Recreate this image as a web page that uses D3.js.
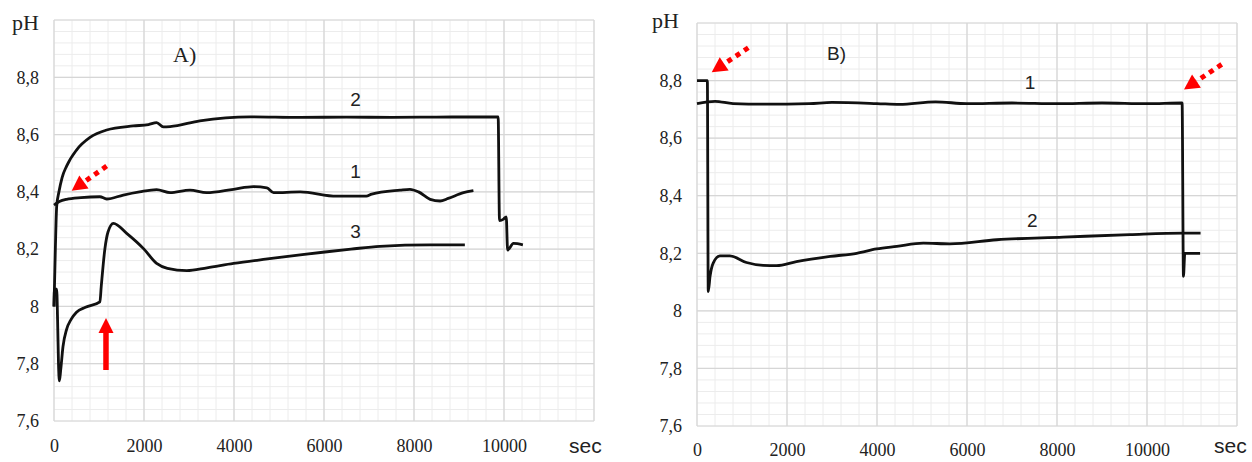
<!DOCTYPE html>
<html>
<head>
<meta charset="utf-8">
<script src="https://cdn.jsdelivr.net/npm/d3@7"></script>
<style>
  body { margin: 0; background: #fff; }
</style>
</head>
<body>
<svg id="chart" width="1252" height="462"></svg>
<script>
// axis ticks
const X_TICKS = [0, 2000, 4000, 6000, 8000, 10000];
const Y_TICKS = [7.6, 7.8, 8.0, 8.2, 8.4, 8.6, 8.8];

// panel A curves, [sec, pH]
const a1 = [[0,8.354],[120,8.366],[280,8.374],[600,8.38],[1020,8.383],[1170,8.375],[1540,8.389],[1900,8.4],
  [2280,8.408],[2580,8.397],[3020,8.406],[3390,8.397],[3990,8.409],[4430,8.418],[4730,8.414],[4880,8.397],
  [5470,8.4],[6280,8.385],[6940,8.385],[7060,8.392],[7690,8.406],[7910,8.409],[8100,8.4],[8360,8.374],
  [8580,8.368],[8760,8.377],[9100,8.397],[9320,8.404]];
const a2 = [[0,8.0],[30,8.2],[60,8.35],[110,8.4],[180,8.45],[280,8.49],[500,8.546],[800,8.59],[1170,8.616],
  [1760,8.63],[2100,8.635],[2280,8.642],[2430,8.627],[2580,8.628],[3240,8.648],[4360,8.662],[5470,8.66],
  [6500,8.661],[7500,8.66],[8500,8.661],[9870,8.662],[9900,8.3],[9990,8.305],[10050,8.313],[10080,8.197],
  [10210,8.22],[10420,8.215]];
const a3 = [[0,8.0],[10,8.06],[60,8.06],[80,7.95],[100,7.8],[120,7.74],[150,7.78],[200,7.86],[280,7.92],
  [380,7.955],[500,7.98],[700,7.997],[1020,8.016],[1050,8.07],[1130,8.2],[1200,8.26],[1320,8.29],[1615,8.255],
  [2000,8.2],[2280,8.15],[2520,8.133],[2950,8.125],[3400,8.135],[3990,8.15],[4700,8.165],[5470,8.18],
  [6020,8.19],[6600,8.2],[7240,8.21],[8360,8.215],[9130,8.215]];

// panel B curves, [sec, pH]
const b1 = [[0,8.72],[400,8.728],[800,8.72],[1500,8.718],[2500,8.72],[3000,8.724],[4000,8.72],[4500,8.717],
  [5300,8.726],[6000,8.72],[7000,8.722],[8000,8.72],[9000,8.722],[10000,8.72],[10780,8.722],[10810,8.12],
  [10840,8.2],[11180,8.2]];
const b2 = [[0,8.8],[230,8.8],[250,8.067],[290,8.12],[360,8.166],[510,8.191],[730,8.191],[1100,8.168],
  [1470,8.158],[1770,8.157],[2210,8.171],[2960,8.189],[3550,8.2],[3990,8.215],[4440,8.224],[5030,8.235],
  [5620,8.233],[6660,8.247],[8140,8.256],[9620,8.265],[10810,8.27],[11190,8.27]];

// curve number labels: [sec, pH, text]
const aLabels = [[6700, 8.7, "2"], [6700, 8.45, "1"], [6700, 8.24, "3"]];
const bLabels = [[7400, 8.77, "1"], [7450, 8.29, "2"]];

// red arrows: [tail sec, tail pH, tip sec, tip pH]
const aDotted = [[1170, 8.49, 393, 8.404]];
const aSolid = [[1155, 7.778, 1155, 7.96]];
const bDotted = [[1140, 8.914, 327, 8.829], [11660, 8.856, 10822, 8.769]];

const svg = d3.select("#chart");
const fmt = d => String(d).replace(".", ",");

function drawPanel(opt) {
  const x = d3.scaleLinear().domain([0, 12000]).range(opt.xr);
  const y = d3.scaleLinear().domain([7.6, 9.0]).range(opt.yr);
  const g = svg.append("g");

  // minor grid
  g.selectAll(".vx").data(d3.range(0, 12001, 400)).join("line")
    .attr("x1", d => x(d)).attr("x2", d => x(d)).attr("y1", y(7.6)).attr("y2", y(9.0))
    .attr("stroke", "#ececec").attr("stroke-width", 1);
  g.selectAll(".hy").data(d3.range(0, 36)).join("line")
    .attr("x1", x(0)).attr("x2", x(12000))
    .attr("y1", d => y(7.6 + d * 0.04)).attr("y2", d => y(7.6 + d * 0.04))
    .attr("stroke", "#ececec").attr("stroke-width", 1);
  // major grid
  g.selectAll(".mx").data(d3.range(0, 12001, 2000)).join("line")
    .attr("x1", d => x(d)).attr("x2", d => x(d)).attr("y1", y(7.6)).attr("y2", y(9.0))
    .attr("stroke", "#d6d6d6").attr("stroke-width", 1.2);
  g.selectAll(".my").data(Y_TICKS.concat([9.0])).join("line")
    .attr("x1", x(0)).attr("x2", x(12000)).attr("y1", d => y(d)).attr("y2", d => y(d))
    .attr("stroke", "#d6d6d6").attr("stroke-width", 1.2);

  // axes
  const ya = g.append("g").attr("transform", `translate(${x(0)},0)`)
    .call(d3.axisLeft(y).tickValues(Y_TICKS).tickSize(0).tickPadding(opt.ypad).tickFormat(fmt));
  const xa = g.append("g").attr("transform", `translate(0,${y(7.6)})`)
    .call(d3.axisBottom(x).tickValues(X_TICKS).tickSize(0).tickPadding(opt.xpad).tickFormat(d3.format("d")));
  [ya, xa].forEach(a => {
    a.select(".domain").remove();
    a.selectAll("text").attr("font-family", "Liberation Serif").attr("font-size", 18).attr("fill", "#222");
  });

  // curves
  const line = d3.line().x(d => x(d[0])).y(d => y(d[1])).curve(d3.curveMonotoneX);
  opt.series.forEach(s => {
    g.append("path").datum(s)
      .attr("fill", "none").attr("stroke", "#111").attr("stroke-width", 2.8)
      .attr("stroke-linejoin", "round").attr("d", line);
  });

  // curve numbers
  g.selectAll(".lab").data(opt.labels).join("text")
    .attr("x", d => x(d[0])).attr("y", d => y(d[1]))
    .attr("text-anchor", "middle").attr("font-family", "Liberation Sans").attr("font-size", 19)
    .attr("fill", "#222").text(d => d[2]);

  // red arrows
  const arrowHead = (x1, y1, x2, y2, len, w) => {
    const a = Math.atan2(y2 - y1, x2 - x1);
    const bx = x2 - len * Math.cos(a), by = y2 - len * Math.sin(a);
    const px = -Math.sin(a) * w / 2, py = Math.cos(a) * w / 2;
    return { bx, by, pts: [[x2, y2], [bx + px, by + py], [bx - px, by - py]] };
  };
  opt.dotted.forEach(d => {
    const x1 = x(d[0]), y1 = y(d[1]), x2 = x(d[2]), y2 = y(d[3]);
    const h = arrowHead(x1, y1, x2, y2, 15, 16);
    g.append("line").attr("x1", x1).attr("y1", y1).attr("x2", h.bx).attr("y2", h.by)
      .attr("stroke", "#f00").attr("stroke-width", 5).attr("stroke-dasharray", "5,5");
    g.append("polygon").attr("points", h.pts.join(" ")).attr("fill", "#f00");
  });
  opt.solid.forEach(d => {
    const x1 = x(d[0]), y1 = y(d[1]), x2 = x(d[2]), y2 = y(d[3]);
    const h = arrowHead(x1, y1, x2, y2, 15, 15);
    g.append("line").attr("x1", x1).attr("y1", y1).attr("x2", h.bx).attr("y2", h.by)
      .attr("stroke", "#f00").attr("stroke-width", 5.5);
    g.append("polygon").attr("points", h.pts.join(" ")).attr("fill", "#f00");
  });

  // titles
  svg.append("text").attr("x", opt.ph[0]).attr("y", opt.ph[1])
    .attr("font-family", "Liberation Serif").attr("font-size", 22).attr("fill", "#222").text("pH");
  svg.append("text").attr("x", opt.sec[0]).attr("y", opt.sec[1])
    .attr("font-family", "Liberation Sans").attr("font-size", 21).attr("fill", "#222").text("sec");
  svg.append("text").attr("x", opt.title[0]).attr("y", opt.title[1])
    .attr("font-family", opt.titleFont).attr("font-size", opt.titleSize).attr("fill", "#222").text(opt.title[2]);
}

drawPanel({
  xr: [54, 594], yr: [421, 20], ypad: 15, xpad: 18,
  series: [a1, a2, a3], labels: aLabels, dotted: aDotted, solid: aSolid,
  ph: [12, 30], sec: [569, 453], title: [173, 62, "A)"], titleFont: "Liberation Serif", titleSize: 22
});
drawPanel({
  xr: [697, 1237], yr: [426, 23], ypad: 15, xpad: 17,
  series: [b1, b2], labels: bLabels, dotted: bDotted, solid: [],
  ph: [652, 28], sec: [1214, 453], title: [827, 60, "B)"], titleFont: "Liberation Sans", titleSize: 19
});
</script>
</body>
</html>
